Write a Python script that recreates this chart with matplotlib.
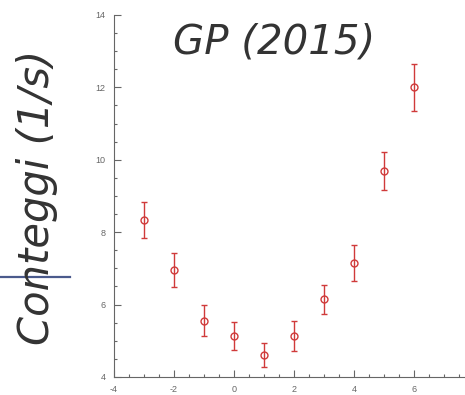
import matplotlib
matplotlib.use("Agg")
import matplotlib.pyplot as plt
from matplotlib.ticker import MultipleLocator

plt.rcParams['axes.unicode_minus'] = False

# dati
pos = [-3, -2, -1, 0, 1, 2, 3, 4, 5, 6]
conteggi = [8.34, 6.96, 5.55, 5.13, 4.61, 5.13, 6.15, 7.15, 9.69, 12.01]
errori = [0.50, 0.47, 0.43, 0.38, 0.33, 0.42, 0.40, 0.51, 0.52, 0.65]

xticks = [-4, -2, 0, 2, 4, 6]
yticks = [4, 6, 8, 10, 12, 14]

fig = plt.figure(figsize=(4.65, 3.95), dpi=100)
ax = fig.add_axes([114 / 465, 18 / 395, 360 / 465, 362 / 395])

ax.errorbar(pos, conteggi, yerr=errori, fmt='o', color='#d03a3a',
            mfc='none', ms=5, mew=1.0, elinewidth=1.0, capsize=2.5, capthick=1.0)

ax.set_xlim(-4, 8)
ax.set_ylim(4, 14)
ax.set_xticks(xticks)
ax.set_yticks(yticks)
ax.xaxis.set_minor_locator(MultipleLocator(0.5))
ax.yaxis.set_minor_locator(MultipleLocator(0.5))
ax.tick_params(which='both', direction='in', color='#666666', width=0.8)
ax.tick_params(which='major', length=5, labelsize=6.5, labelcolor='#666666', pad=6)
ax.tick_params(which='minor', length=2.5)
for lab in ax.get_xticklabels() + ax.get_yticklabels():
    lab.set_family('Liberation Sans')
ax.spines['top'].set_visible(False)
ax.spines['right'].set_visible(False)
ax.spines['left'].set_color('#666666')
ax.spines['bottom'].set_color('#666666')

# titolo e etichetta
fig.text(274 / 465, 1 - 42 / 395, 'GP (2015)', fontsize=29, style='italic',
         family='DejaVu Sans', color='#333333', ha='center', va='center')
fig.text(37 / 465, 1 - 197 / 395, 'Conteggi (1/s)', fontsize=30, style='italic',
         family='DejaVu Sans', color='#333333', ha='center', va='center', rotation=90)

# linea blu
fig.add_artist(plt.Line2D([0, 70 / 465], [1 - 277 / 395] * 2, color='#4a5a8c', lw=1.6))

fig.savefig('out.png', dpi=100)
